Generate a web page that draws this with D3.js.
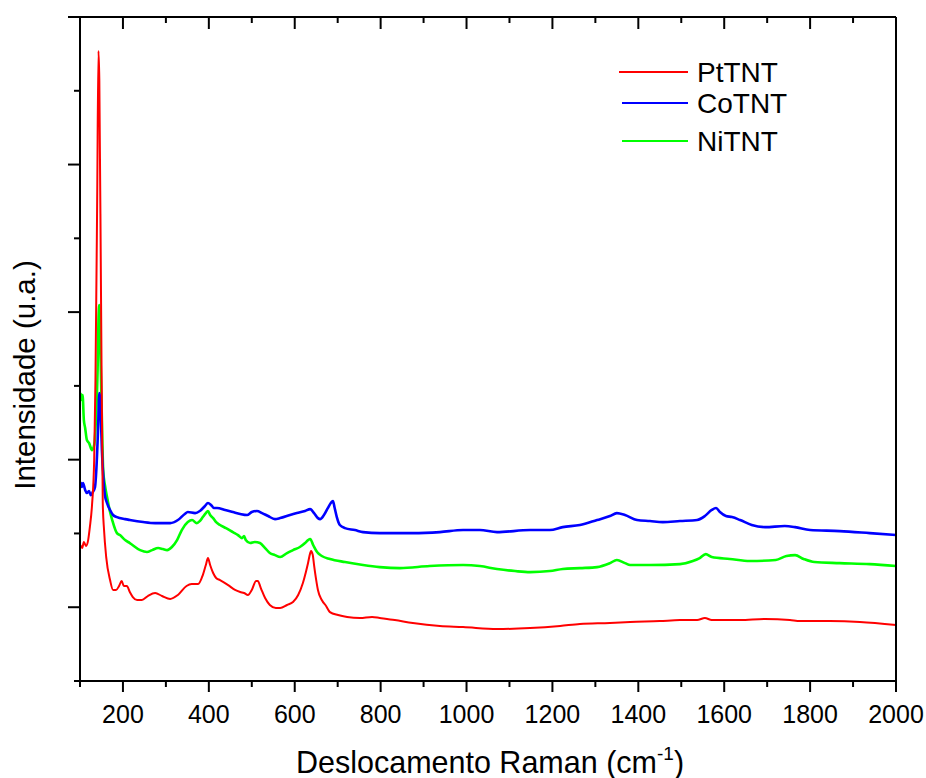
<!DOCTYPE html>
<html>
<head>
<meta charset="utf-8">
<script src="https://cdn.jsdelivr.net/npm/d3@7"></script>
<style>
  html, body { margin: 0; padding: 0; background: #fff; }
  svg { display: block; }
  text { font-family: "Liberation Sans", Arial, sans-serif; fill: #000; }
</style>
</head>
<body>
<svg id="chart" width="926" height="778"></svg>
<script>
// ---------- data ----------
const seriesNames = ["PtTNT", "CoTNT", "NiTNT"];
const seriesColors = ["#ff0000", "#0000ff", "#00ff00"];

// Raman shift (cm-1) , intensity (a.u.)
const ptX = [101,105,109,114,119,123,128,133,136,140,143,145,149,153,156,161,170,177,184,191,197,202,209,216,223,233,244,258,275,291,310,328,348,360,375,386,393,398,403,410,417,426,445,461,473,482,491,500,510,514,521,531,542,556,566,582,596,608,619,626,631,636,638,642,645,650,654,663,673,682,701,722,752,780,798,833,875,938,992,1071,1148,1218,1264,1334,1381,1450,1497,1537,1555,1571,1637,1695,1753,1777,1846,1916,2000];
const ptY = [421,401,442,415,455,544,693,998,1540,2760,3770,3573,2082,706,523,340,184,117,117,144,178,144,144,103,69,49,49,76,96,76,56,83,144,157,157,218,286,333,286,232,198,184,150,117,103,96,83,117,178,178,130,62,15,-5,-5,15,35,83,164,239,300,367,381,354,286,184,117,49,8,-33,-53,-66,-73,-66,-73,-87,-107,-127,-134,-148,-141,-127,-114,-107,-100,-94,-87,-87,-73,-87,-87,-80,-87,-94,-94,-100,-121];

const coX = [101,104,107,112,116,121,125,130,135,138,142,145,148,151,154,158,163,170,177,186,205,216,247,275,310,328,344,351,368,379,391,398,405,412,419,438,456,473,489,500,512,524,538,554,566,589,605,624,636,645,654,659,668,677,684,689,693,698,705,717,740,759,798,875,938,992,1031,1071,1148,1194,1224,1264,1304,1334,1350,1369,1397,1427,1457,1497,1537,1555,1571,1581,1590,1604,1618,1637,1664,1695,1741,1765,1800,1869,1939,2000];
const coY = [848,815,842,794,774,788,760,781,815,930,1201,1452,1336,1065,896,760,706,659,625,611,597,591,577,570,570,591,632,645,638,652,686,706,693,672,672,659,645,632,625,645,652,638,618,597,604,625,638,652,665,638,604,597,625,672,706,719,672,611,557,536,523,509,502,502,509,523,523,509,523,523,543,557,591,618,638,625,591,584,577,584,591,618,659,672,645,618,611,591,557,543,550,543,523,516,502,489];

const niX = [101,104,106,109,112,116,121,128,133,137,141,143,145,147,150,154,158,163,170,175,186,193,205,216,240,256,268,282,293,303,314,326,337,351,361,372,379,386,393,398,403,410,417,426,440,456,468,477,482,486,496,507,519,531,542,554,566,582,596,612,624,631,636,643,652,663,682,717,759,798,845,914,992,1031,1071,1113,1148,1194,1224,1264,1304,1334,1350,1369,1381,1427,1497,1527,1543,1557,1571,1613,1660,1720,1745,1765,1785,1810,1869,1939,2000];
const niY = [1452,1404,1438,1268,1215,1133,1113,1065,1099,1268,1608,1947,2048,1811,1404,930,828,747,645,591,502,489,455,435,387,374,387,401,394,387,408,455,523,577,591,570,584,611,638,652,625,604,577,557,536,509,489,468,482,455,435,442,435,401,367,353,340,367,387,408,435,455,462,421,374,347,327,306,286,272,265,279,286,279,259,245,238,245,259,265,272,299,320,299,286,286,292,313,333,360,340,327,313,320,347,353,327,306,299,292,279];

const xMajorTicks = [200,400,600,800,1000,1200,1400,1600,1800,2000];
const xMinorTicks = [100,300,500,700,900,1100,1300,1500,1700,1900];
const yMajorTicks = [0,1000,2000,3000,4000];
const yMinorTicks = [-500,500,1500,2500,3500];

const xTitle = "Deslocamento Raman (cm";
const xTitleSup = "-1";
const yTitle = "Intensidade (u.a.)";

// ---------- layout ----------
const L = 80, R = 896, T = 17, B = 681;
const svg = d3.select("#chart");
const x = d3.scaleLinear().domain([100, 2000]).range([L, R]);
const y = d3.scaleLinear().domain([-500, 4000]).range([B, T]);

const series = [
  { name: seriesNames[0], color: seriesColors[0], xs: ptX, ys: ptY, w: 2 },
  { name: seriesNames[1], color: seriesColors[1], xs: coX, ys: coY, w: 2.6 },
  { name: seriesNames[2], color: seriesColors[2], xs: niX, ys: niY, w: 2.6 }
];

const line = d3.line().x(d => x(d[0])).y(d => y(d[1])).curve(d3.curveMonotoneX);

// draw series (Ni first, then Co, then Pt on top like reference)
[series[2], series[1], series[0]].forEach(s => {
  const pts = s.xs.map((v, i) => [v, s.ys[i]]);
  svg.append("path")
    .datum(pts)
    .attr("fill", "none")
    .attr("stroke", s.color)
    .attr("stroke-width", s.w)
    .attr("stroke-linejoin", "round")
    .attr("d", line);
});

// ---------- axes ----------
const ax = svg.append("g").attr("stroke", "#000").attr("stroke-width", 2).attr("fill", "none");
// frame
ax.append("line").attr("x1", L).attr("x2", R).attr("y1", B).attr("y2", B);
ax.append("line").attr("x1", L).attr("x2", R).attr("y1", T).attr("y2", T);
ax.append("line").attr("x1", L).attr("x2", L).attr("y1", T).attr("y2", B);
ax.append("line").attr("x1", R).attr("x2", R).attr("y1", T).attr("y2", B);

// bottom ticks (outward) and top ticks (inward)
xMajorTicks.forEach(v => {
  ax.append("line").attr("x1", x(v)).attr("x2", x(v)).attr("y1", B).attr("y2", B + 11);
  ax.append("line").attr("x1", x(v)).attr("x2", x(v)).attr("y1", T).attr("y2", T + 12);
});
xMinorTicks.forEach(v => {
  ax.append("line").attr("x1", x(v)).attr("x2", x(v)).attr("y1", B).attr("y2", B + 6);
  ax.append("line").attr("x1", x(v)).attr("x2", x(v)).attr("y1", T).attr("y2", T + 6);
});
// left ticks (outward)
yMajorTicks.forEach(v => {
  ax.append("line").attr("x1", L - 12).attr("x2", L).attr("y1", y(v)).attr("y2", y(v));
});
yMinorTicks.forEach(v => {
  ax.append("line").attr("x1", L - 6).attr("x2", L).attr("y1", y(v)).attr("y2", y(v));
});

// tick labels
svg.append("g").selectAll("text").data(xMajorTicks).join("text")
  .attr("x", d => x(d))
  .attr("y", 723)
  .attr("text-anchor", "middle")
  .attr("font-size", 25)
  .text(d => d);

// x title
const xt = svg.append("text")
  .attr("x", 490)
  .attr("y", 773)
  .attr("text-anchor", "middle")
  .attr("font-size", 30.5);
xt.append("tspan").text(xTitle);
xt.append("tspan").attr("font-size", 19).attr("dy", -13).text(xTitleSup);
xt.append("tspan").attr("dy", 13).text(")");

// y title
svg.append("text")
  .attr("transform", "translate(35,375) rotate(-90)")
  .attr("text-anchor", "middle")
  .attr("font-size", 29.5)
  .text(yTitle);

// ---------- legend ----------
const legY = [72, 103, 141];
const legX1 = [619, 622, 622];
series.forEach((s, i) => {
  svg.append("line")
    .attr("x1", legX1[i]).attr("x2", 688)
    .attr("y1", legY[i]).attr("y2", legY[i])
    .attr("stroke", s.color).attr("stroke-width", 2);
  svg.append("text")
    .attr("x", 697)
    .attr("y", legY[i] + 10)
    .attr("font-size", 28)
    .text(s.name);
});
</script>
</body>
</html>
